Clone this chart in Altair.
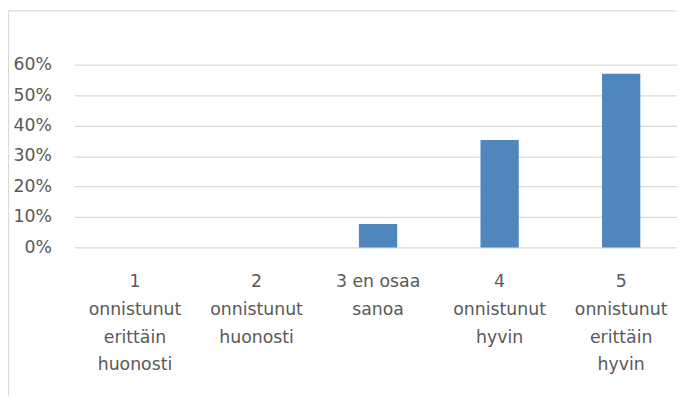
import altair as alt
import pandas as pd

categories = [
    "1\nonnistunut\nerittäin\nhuonosti",
    "2\nonnistunut\nhuonosti",
    "3 en osaa\nsanoa",
    "4\nonnistunut\nhyvin",
    "5\nonnistunut\nerittäin\nhyvin",
]
shares = [0.0, 0.0, 0.077, 0.353, 0.57]
y_ticks = [0.0, 0.1, 0.2, 0.3, 0.4, 0.5, 0.6]

df = pd.DataFrame({"cat": categories, "share": shares})

FONT = "DejaVu Sans"
TEXT = "#595959"
GRID = "#D9D9D9"
BAR = "#4F86BD"

W, H = 610, 185
PAD = {"left": 67, "top": 55, "right": 0, "bottom": 150}

bars = alt.Chart(df).mark_bar(color=BAR).encode(
    x=alt.X(
        "cat:N",
        sort=categories,
        title=None,
        scale=alt.Scale(range=[0, 615], paddingInner=0.685, paddingOuter=0.3425),
        axis=alt.Axis(
            labelAngle=0,
            labelExpr="split(datum.label, '\\n')",
            labelFont=FONT,
            labelFontSize=17.5,
            labelColor=TEXT,
            labelLineHeight=28,
            labelPadding=26,
            labelLimit=300,
            ticks=False,
            domain=False,
            grid=False,
        ),
    ),
    y=alt.Y(
        "share:Q",
        title=None,
        scale=alt.Scale(domain=[0, 0.6], nice=False),
        axis=alt.Axis(
            values=y_ticks,
            format=".0%",
            grid=True,
            gridColor=GRID,
            gridWidth=1.3,
            ticks=False,
            domain=False,
            labelFont=FONT,
            labelFontSize=17.5,
            labelColor=TEXT,
            labelPadding=23,
        ),
    ),
)

one = pd.DataFrame({"k": [0]})
top_border = alt.Chart(one).mark_rule(color=GRID, strokeWidth=1.2).encode(
    x=alt.value(-66.5), x2=alt.value(W), y=alt.value(-54.5)
)
left_border = alt.Chart(one).mark_rule(color=GRID, strokeWidth=1.2).encode(
    x=alt.value(-66.5), y=alt.value(-54.5), y2=alt.value(H + PAD["bottom"])
)

chart = (
    alt.layer(bars, top_border, left_border)
    .properties(
        width=W,
        height=H,
        padding=PAD,
        autosize=alt.AutoSizeParams(type="none"),
        background="white",
    )
    .configure_view(stroke=None)
)

chart.save("out.html", embed_options={"renderer": "svg", "actions": False})
